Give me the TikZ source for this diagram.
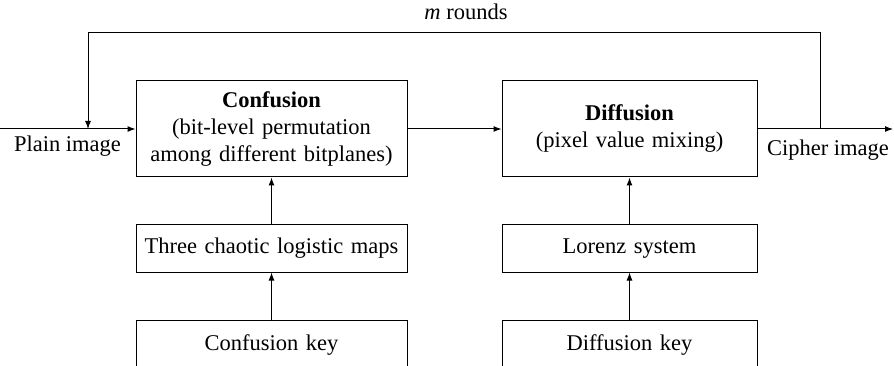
\documentclass[tikz,border=0pt]{standalone}
\usepackage{fontspec}
\setmainfont{Liberation Serif}
\usetikzlibrary{arrows.meta}
\begin{document}
\begin{tikzpicture}[x=1pt,y=-1pt,
  font=\fontsize{22.5}{27}\selectfont,
  line width=1pt,
  arr/.style={-{Latex[length=8pt,width=6pt]}},
  blk/.style={draw, line width=1pt, inner sep=0pt, align=center, text width=#1},
  lbl/.style={inner sep=0pt, anchor=base}]
\useasboundingbox (0,0) rectangle (894,366);
\clip (0,0) rectangle (894,366);
% main boxes
\node[blk=270pt, minimum width=271pt, minimum height=96pt] (conf) at (271.5,129)
  {\textbf{Confusion}\\(bit-level permutation\\among different bitplanes)};
\node[blk=254pt, minimum width=255pt, minimum height=96pt] (diff) at (629.5,129)
  {\textbf{Diffusion}\\(pixel value mixing)};
% generator boxes
\node[blk=270pt, minimum width=271pt, minimum height=47pt] (map1) at (271.5,248.5)
  {Three chaotic logistic maps};
\node[blk=254pt, minimum width=255pt, minimum height=47pt] (map2) at (629.5,248.5)
  {Lorenz system};
% key boxes (cut at the bottom edge)
\node[blk=270pt, minimum width=271pt, minimum height=50pt] (key1) at (271.5,345)
  {Confusion key};
\node[blk=254pt, minimum width=255pt, minimum height=50pt] (key2) at (629.5,345)
  {Diffusion key};
% labels
\node[lbl] (plain) at (67.5,152) {Plain image};
\node[lbl] (cipher) at (828,156) {Cipher image};
\node[lbl] (rounds) at (466,20) {\textit{m} rounds};
% coordinates
\coordinate (in) at (0,129);
\coordinate (out) at (893,129);
\coordinate (fbr) at (820,129);
\coordinate (fbl) at (88,129);
% connectors
\draw[arr] (in) -- (conf.west);
\draw[arr] (conf.east) -- (diff.west);
\draw[arr] (diff.east) -- (out);
\draw[arr] (fbr) -- (820,33) -- (88,33) -- (fbl);
\draw[arr] (map1.north) -- (conf.south);
\draw[arr] (map2.north) -- (diff.south);
\draw[arr] (key1.north) -- (map1.south);
\draw[arr] (key2.north) -- (map2.south);
\end{tikzpicture}
\end{document}
